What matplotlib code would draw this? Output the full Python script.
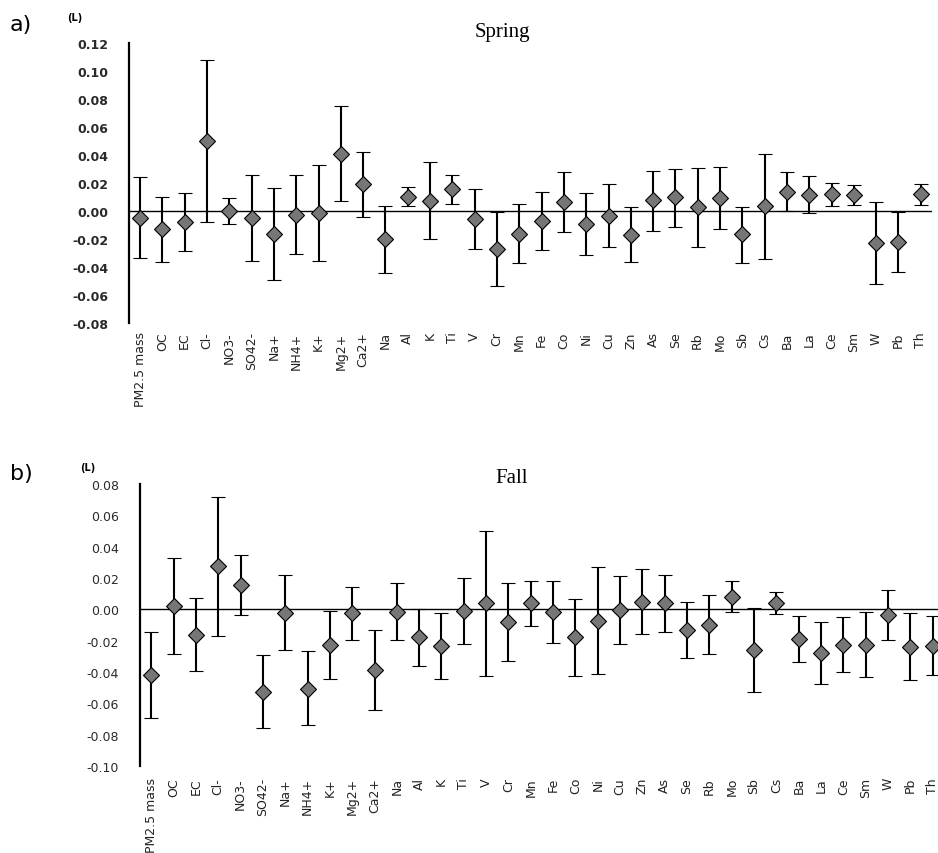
import numpy as np
import matplotlib
matplotlib.use('Agg')
import matplotlib.pyplot as plt

species = ['PM2.5 mass', 'OC', 'EC', 'Cl-', 'NO3-', 'SO42-', 'Na+', 'NH4+', 'K+',
           'Mg2+', 'Ca2+', 'Na', 'Al', 'K', 'Ti', 'V', 'Cr', 'Mn', 'Fe', 'Co', 'Ni',
           'Cu', 'Zn', 'As', 'Se', 'Rb', 'Mo', 'Sb', 'Cs', 'Ba', 'La', 'Ce', 'Sm',
           'W', 'Pb', 'Th']

# spring: estimate, upper and lower bound
spring_mid = [-0.0048, -0.013, -0.0079, 0.050, 0.0, -0.0048, -0.0167, -0.0029, -0.0012,
              0.041, 0.019, -0.020, 0.0102, 0.0071, 0.0155, -0.006, -0.0274, -0.0164,
              -0.0074, 0.0062, -0.009, -0.0036, -0.0171, 0.0076, 0.0098, 0.0026, 0.0093,
              -0.0167, 0.0033, 0.0133, 0.0114, 0.0119, 0.0114, -0.0226, -0.0221, 0.0119]
spring_hi = [0.0245, 0.0102, 0.0126, 0.108, 0.0093, 0.026, 0.0162, 0.026, 0.033,
             0.075, 0.042, 0.0038, 0.017, 0.035, 0.0257, 0.016, -0.001, 0.005,
             0.0133, 0.0276, 0.0131, 0.019, 0.0029, 0.0288, 0.030, 0.0307, 0.0314,
             0.0031, 0.041, 0.0276, 0.025, 0.020, 0.0186, 0.0064, -0.001, 0.019]
spring_lo = [-0.0338, -0.0367, -0.0283, -0.0079, -0.0093, -0.0355, -0.049, -0.031, -0.0355,
             0.0069, -0.0045, -0.0445, 0.0038, -0.020, 0.005, -0.0274, -0.0533, -0.0374,
             -0.0276, -0.0152, -0.0312, -0.026, -0.0364, -0.0145, -0.0112, -0.026, -0.0129,
             -0.0369, -0.0345, 0.0, -0.0017, 0.0036, 0.0043, -0.0519, -0.0438, 0.0043]

# fall
fall_mid = [-0.0419, 0.0019, -0.0163, 0.0275, 0.0157, -0.0529, -0.0023, -0.0506, -0.0226,
            -0.0025, -0.0387, -0.0015, -0.0178, -0.0233, -0.0013, 0.0038, -0.008, 0.0038,
            -0.0015, -0.0178, -0.0074, -0.0002, 0.0049, 0.0038, -0.0133, -0.0099, 0.008,
            -0.0258, 0.0042, -0.0188, -0.0279, -0.0226, -0.0226, -0.0036, -0.0239, -0.0231]
fall_hi = [-0.0142, 0.033, 0.007, 0.072, 0.0345, -0.0294, 0.0216, -0.0265, -0.0008,
           0.0142, -0.0133, 0.0169, 0.0004, -0.0025, 0.0197, 0.0497, 0.0167, 0.0182,
           0.0182, 0.0068, 0.0271, 0.0214, 0.0256, 0.0218, 0.0044, 0.0091, 0.0182,
           0.0006, 0.0112, -0.0042, -0.0078, -0.0051, -0.0015, 0.0125, -0.0025, -0.0042]
fall_lo = [-0.0694, -0.0288, -0.0394, -0.0169, -0.0036, -0.076, -0.026, -0.074, -0.0442,
           -0.0197, -0.0641, -0.0197, -0.036, -0.0444, -0.0222, -0.0428, -0.0328, -0.0104,
           -0.0212, -0.0425, -0.0415, -0.022, -0.0157, -0.0142, -0.0311, -0.0284, -0.0019,
           -0.0525, -0.003, -0.0339, -0.0476, -0.0402, -0.0434, -0.0197, -0.0449, -0.0421]

spring_ticks = [0.12, 0.10, 0.08, 0.06, 0.04, 0.02, 0.00, -0.02, -0.04, -0.06, -0.08]
fall_ticks = [0.08, 0.06, 0.04, 0.02, 0.00, -0.02, -0.04, -0.06, -0.08, -0.10]

plt.rcParams['font.family'] = ['DejaVu Sans']

fig = plt.figure(figsize=(9.38, 8.54), dpi=100)


def draw_panel(ax, mid, hi, lo, ticks, ylim, xpad, yweight):
    x = np.arange(len(species))
    mid = np.array(mid)
    err = [mid - np.array(lo), np.array(hi) - mid]
    ax.axhline(0, color='black', lw=1.0, zorder=1)
    ax.errorbar(x, mid, yerr=err, fmt='D', ms=8.5, mfc='#767676', mec='black', mew=0.8,
                ecolor='black', elinewidth=1.5, capsize=5, capthick=1.5, zorder=3)
    ax.set_xlim(-0.5, len(species) - 0.5)
    ax.set_ylim(*ylim)
    ax.set_yticks(ticks)
    ax.set_yticklabels(['%.2f' % t for t in ticks], fontsize=9, color='#2a2a2a',
                       fontweight=yweight)
    ax.set_xticks(x)
    ax.set_xticklabels(species, rotation=90, fontsize=9, color='#222222')
    ax.tick_params(axis='y', length=0, pad=15)
    ax.tick_params(axis='x', length=0, pad=xpad)
    for s in ['top', 'right', 'bottom']:
        ax.spines[s].set_visible(False)
    ax.spines['left'].set_linewidth(1.6)
    ax.patch.set_alpha(0)


ax1 = fig.add_axes([0.1375, 0.6206, 0.856, 0.3279])
draw_panel(ax1, spring_mid, spring_hi, spring_lo, spring_ticks, (-0.08, 0.12), 6, 'semibold')
ax2 = fig.add_axes([0.1493, 0.1019, 0.857, 0.3302])
draw_panel(ax2, fall_mid, fall_hi, fall_lo, fall_ticks, (-0.10, 0.08), 8, 'normal')

fig.text(502 / 938, 1 - 33 / 854, 'Spring', family='Liberation Serif', fontsize=15,
         ha='center', va='center')
fig.text(512 / 938, 1 - 479 / 854, 'Fall', family='Liberation Serif', fontsize=15,
         ha='center', va='center')
fig.text(10 / 938, 1 - 25 / 854, 'a)', fontsize=16, ha='left', va='center')
fig.text(75 / 938, 1 - 18 / 854, '(L)', fontsize=7, fontweight='semibold',
         ha='center', va='center')
fig.text(10 / 938, 1 - 474 / 854, 'b)', fontsize=16, ha='left', va='center')
fig.text(88 / 938, 1 - 468 / 854, '(L)', fontsize=7, fontweight='semibold',
         ha='center', va='center')

fig.savefig('out.png', dpi=100)
